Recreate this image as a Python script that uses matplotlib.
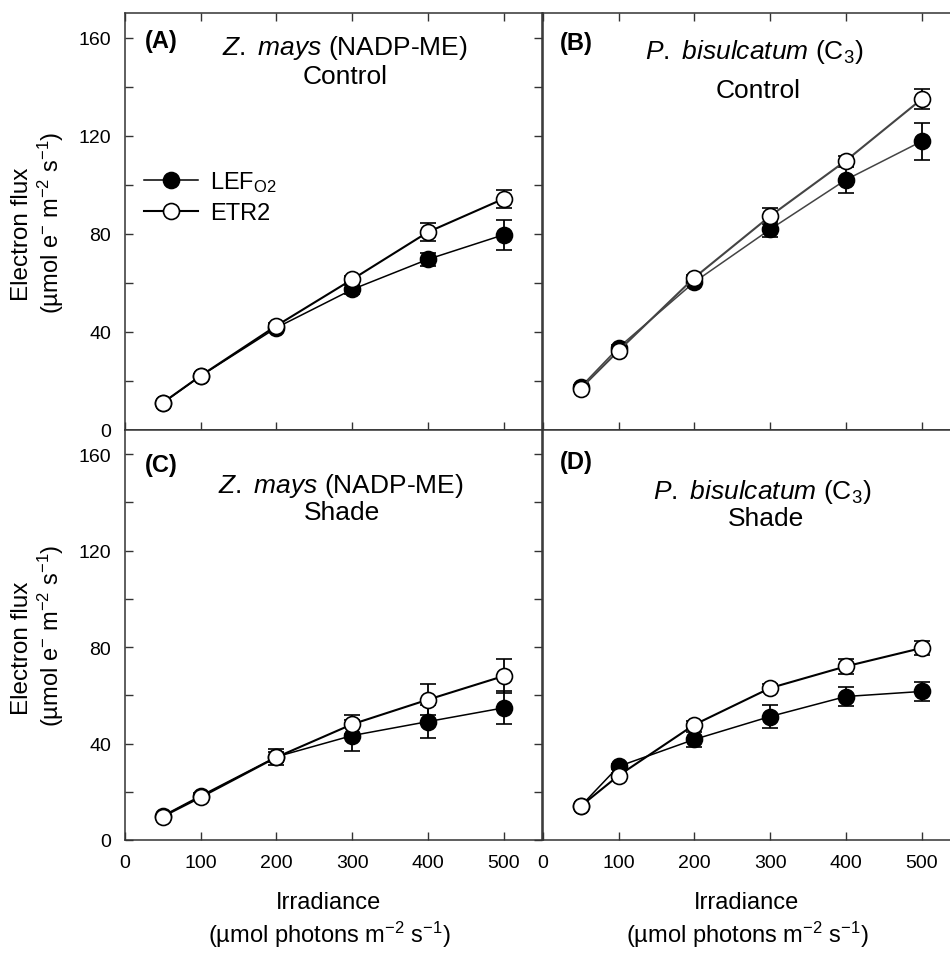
import matplotlib
matplotlib.use("Agg")
import matplotlib.pyplot as plt
from matplotlib.ticker import MultipleLocator

plt.rcParams["font.family"] = ["Liberation Sans", "DejaVu Sans"]
plt.rcParams["mathtext.fontset"] = "custom"
plt.rcParams["mathtext.rm"] = "Liberation Sans"
plt.rcParams["mathtext.it"] = "Liberation Sans:italic"
plt.rcParams["mathtext.bf"] = "Liberation Sans:bold"

# irradiance levels (umol photons m-2 s-1)
irradiance = [50, 100, 200, 300, 400, 500]

# (A) Z. mays control
lef_a = [11.0, 22.0, 41.7, 57.3, 69.6, 79.6]
lef_a_err = [0.5, 0.8, 1.0, 1.9, 2.7, 6.1]
etr_a = [11.1, 22.1, 42.5, 61.4, 80.7, 94.3]
etr_a_err = [0.5, 0.8, 1.0, 1.5, 3.5, 3.7]

# (B) P. bisulcatum control
lef_b = [17.5, 33.6, 60.3, 81.8, 102.0, 117.7]
lef_b_err = [0.8, 1.0, 1.2, 3.0, 5.4, 7.5]
etr_b = [16.9, 32.3, 62.1, 87.2, 109.8, 134.9]
etr_b_err = [0.5, 1.0, 1.0, 3.1, 2.0, 4.1]

# (C) Z. mays shade
lef_c = [10.0, 18.3, 34.5, 43.3, 49.1, 54.8]
lef_c_err = [0.5, 1.0, 2.0, 6.4, 7.0, 6.8]
etr_c = [9.7, 17.7, 34.3, 48.0, 58.2, 68.0]
etr_c_err = [0.5, 1.0, 3.3, 3.9, 6.5, 7.0]

# (D) P. bisulcatum shade
lef_d = [14.0, 30.5, 41.7, 51.2, 59.5, 61.6]
lef_d_err = [0.5, 1.0, 3.0, 4.7, 3.9, 4.0]
etr_d = [14.0, 26.7, 47.8, 63.0, 72.0, 79.6]
etr_d_err = [0.5, 1.0, 1.5, 1.5, 3.0, 2.9]

tags = ["(A)", "(B)", "(C)", "(D)"]
species = [r"$\mathit{Z.\ mays}$ (NADP-ME)", r"$\mathit{P.\ bisulcatum}$ (C$_3$)",
           r"$\mathit{Z.\ mays}$ (NADP-ME)", r"$\mathit{P.\ bisulcatum}$ (C$_3$)"]
treatment = ["Control", "Control", "Shade", "Shade"]
lef_label = r"LEF$_{\mathrm{O2}}$"
etr_label = "ETR2"

W, H = 950, 954
fig = plt.figure(figsize=(W / 100, H / 100), dpi=100)


def rect(l, t, r, b):
    return [l / W, 1 - b / H, (r - l) / W, (b - t) / H]


axA = fig.add_axes(rect(124.8, 14, 541.7, 431))
axB = fig.add_axes(rect(542.7, 14, 959.6, 431))
axC = fig.add_axes(rect(124.8, 431, 541.7, 841))
axD = fig.add_axes(rect(542.7, 431, 959.6, 841))
axes = [axA, axB, axC, axD]

series = [
    (lef_a, lef_a_err, etr_a, etr_a_err),
    (lef_b, lef_b_err, etr_b, etr_b_err),
    (lef_c, lef_c_err, etr_c, etr_c_err),
    (lef_d, lef_d_err, etr_d, etr_d_err),
]

# text placement (axes fraction): tag, species line, treatment line
tag_pos = [(0.048, 0.935), (0.041, 0.93), (0.048, 0.917), (0.041, 0.922)]
sp_pos = [(0.528, 0.918), (0.507, 0.910), (0.519, 0.866), (0.527, 0.850)]
tr_pos = [(0.529, 0.848), (0.516, 0.816), (0.520, 0.800), (0.536, 0.786)]

spine_c = "#333333"
handles = None
for i, ax in enumerate(axes):
    lef, lef_err, etr, etr_err = series[i]
    lc = "#444444" if i == 1 else "black"
    h1 = ax.errorbar(irradiance, lef, yerr=lef_err, color=lc, lw=1.1, marker="o", ms=11.5,
                     mfc="black", mec="black", mew=1.2, ecolor="black", elinewidth=1.3,
                     capsize=6, capthick=1.3, label=lef_label, zorder=3)
    h2 = ax.errorbar(irradiance, etr, yerr=etr_err, color=lc, lw=1.5, marker="o", ms=11.5,
                     mfc="white", mec="black", mew=1.2, ecolor="black", elinewidth=1.3,
                     capsize=6, capthick=1.3, label=etr_label, zorder=4)
    if i == 0:
        handles = [h1[0], h2[0]]

    ax.set_xlim(0, 550)
    ax.set_ylim(0, 170)
    ax.yaxis.set_major_locator(MultipleLocator(40))
    ax.yaxis.set_minor_locator(MultipleLocator(20))
    ax.set_xticks(range(0, 501, 100))
    for s in ax.spines.values():
        s.set_color(spine_c)
        s.set_linewidth(1.1)

    left_col = i in (0, 2)
    top_row = i in (0, 1)
    ax.tick_params(which="both", direction="in", length=5.5, width=1.0, color=spine_c,
                   labelsize=14, pad=10,
                   top=top_row, right=left_col, left=left_col, bottom=True,
                   labelleft=left_col, labelbottom=not top_row)

    ax.text(tag_pos[i][0], tag_pos[i][1], tags[i], transform=ax.transAxes,
            fontsize=17, fontweight="bold", ha="left", va="center")
    ax.text(sp_pos[i][0], sp_pos[i][1], species[i], transform=ax.transAxes,
            fontsize=19, ha="center", va="center")
    ax.text(tr_pos[i][0], tr_pos[i][1], treatment[i], transform=ax.transAxes,
            fontsize=19, ha="center", va="center")

axA.legend(handles=handles, labels=[lef_label, etr_label], loc="upper left",
           bbox_to_anchor=(0.045, 0.625), frameon=False, fontsize=17,
           handlelength=2.3, handletextpad=0.5, labelspacing=0.32, borderpad=0,
           borderaxespad=0)

# axis labels
units_y = "(µmol e$^{-}$ m$^{-2}$ s$^{-1}$)"
units_x = "(µmol photons m$^{-2}$ s$^{-1}$)"
for yc in (222.5, 636):
    fig.text(22 / W, 1 - (yc + 12) / H, "Electron flux", rotation=90, fontsize=17.5,
             ha="center", va="center")
    fig.text(51 / W, 1 - yc / H, units_y, rotation=90, fontsize=17,
             ha="center", va="center")
for xc in (329, 747):
    fig.text(xc / W, 1 - 903 / H, "Irradiance", fontsize=17, ha="center", va="center")
    fig.text(xc / W, 1 - 935 / H, units_x, fontsize=17, ha="center", va="center")

fig.savefig("out.png", dpi=100)
